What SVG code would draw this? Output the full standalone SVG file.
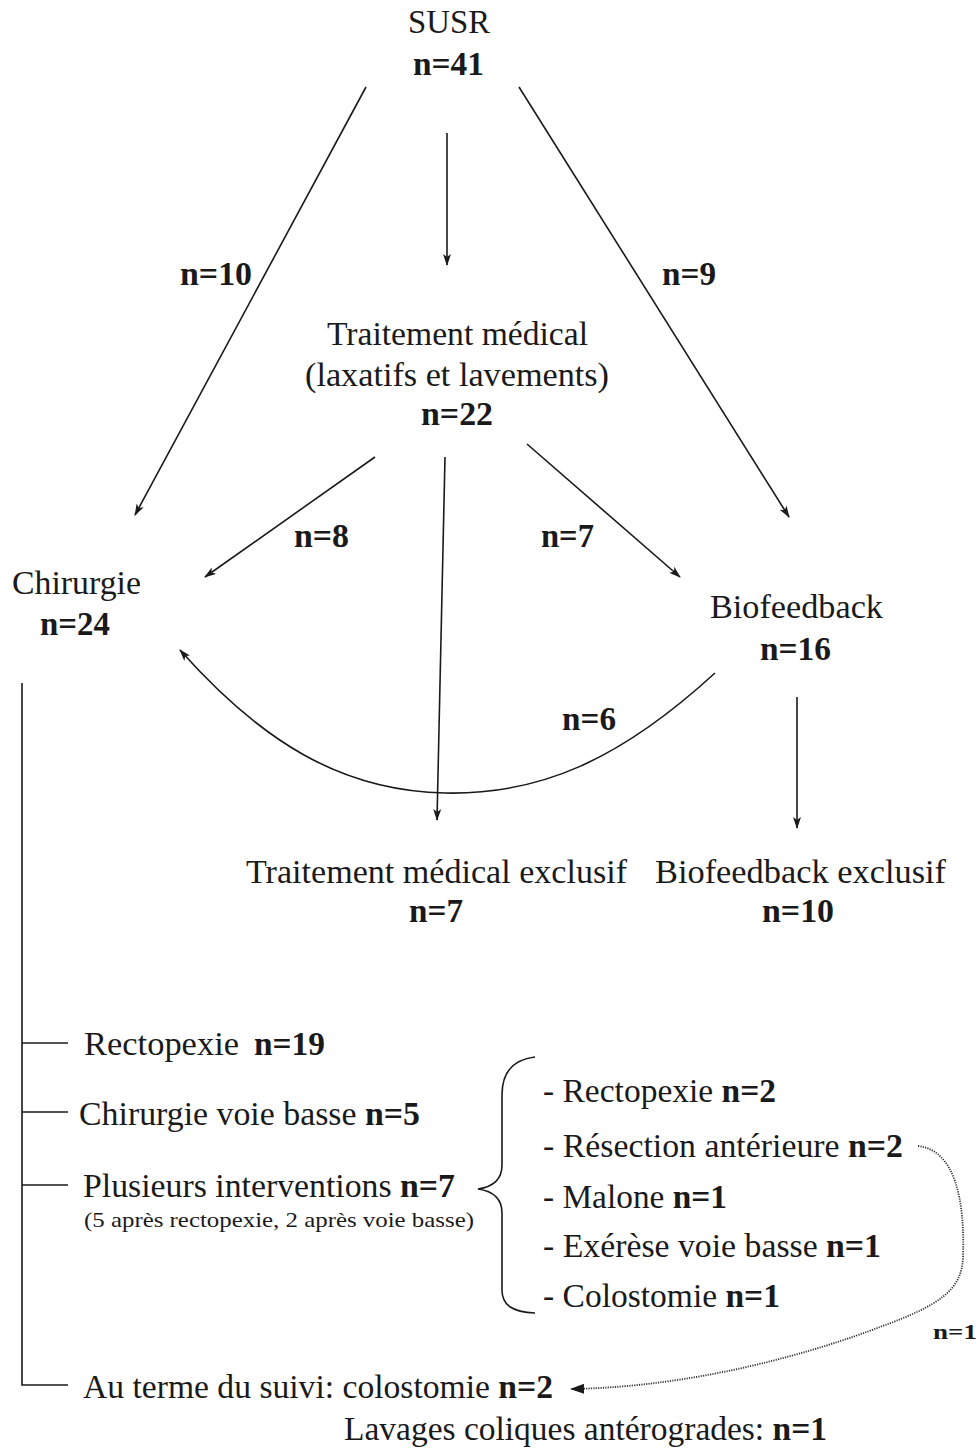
<svg xmlns="http://www.w3.org/2000/svg" width="979" height="1452" viewBox="0 0 979 1452" font-family="Liberation Serif">
<style>
text{font-family:"Liberation Serif","Times New Roman",serif;fill:#1a1a1a;font-size:33px}
.b{font-weight:bold}
.s{font-size:22px}
.ln{stroke:#1a1a1a;stroke-width:1.6;fill:none}
.dot{stroke:#333;stroke-width:1.8;fill:none;stroke-dasharray:1.2 1.2}
</style>
<defs>
<marker id="ah" viewBox="0 0 12 8" refX="11" refY="4" markerWidth="12" markerHeight="8" markerUnits="userSpaceOnUse" orient="auto">
<path d="M0,0 L12,4 L0,8 L3,4 z" fill="#1a1a1a"/>
</marker>
<marker id="ahs" viewBox="0 0 14 10" refX="13" refY="5" markerWidth="14" markerHeight="10" markerUnits="userSpaceOnUse" orient="auto">
<path d="M0,0 L14,5 L0,10 z" fill="#1a1a1a"/>
</marker>
</defs>
<rect width="979" height="1452" fill="#fff"/>
<g id="connectors">
<line class="ln" x1="366" y1="87" x2="135" y2="515" marker-end="url(#ah)"/>
<line class="ln" x1="447" y1="133" x2="447" y2="265" marker-end="url(#ah)"/>
<line class="ln" x1="519" y1="87" x2="789" y2="517" marker-end="url(#ah)"/>
<line class="ln" x1="375" y1="457" x2="205" y2="577" marker-end="url(#ah)"/>
<line class="ln" x1="445" y1="457" x2="437" y2="820" marker-end="url(#ah)"/>
<line class="ln" x1="527" y1="444" x2="680" y2="577" marker-end="url(#ah)"/>
<path class="ln" d="M715,673 C620,760 540,795 445,793 C340,791 260,740 180,650" marker-end="url(#ah)"/>
<line class="ln" x1="797" y1="697" x2="797" y2="828" marker-end="url(#ah)"/>
<path class="ln" d="M22,683 L22,1385 L68,1385 M22,1043 L68,1043 M22,1112 L68,1112 M22,1185 L68,1185"/>
<path class="ln" d="M535,1057 C510,1060 502,1075 502,1095 L502,1165 C502,1180 492,1187 478,1189 C492,1191 502,1198 502,1213 L502,1290 C502,1305 512,1312 535,1313"/>
<path class="dot" d="M918,1146 C955,1150 965,1200 963,1257 C962,1290 940,1305 880,1327 C820,1350 700,1387 571,1389" marker-end="url(#ahs)"/>
</g>
<g id="labels">
<text x="180" y="285" class="b" textLength="72" lengthAdjust="spacingAndGlyphs">n=10</text>
<text x="662" y="285" class="b" textLength="54" lengthAdjust="spacingAndGlyphs">n=9</text>
<text x="294" y="547" class="b" textLength="55" lengthAdjust="spacingAndGlyphs">n=8</text>
<text x="541" y="547" class="b" textLength="53" lengthAdjust="spacingAndGlyphs">n=7</text>
<text x="562" y="730" class="b" textLength="54" lengthAdjust="spacingAndGlyphs">n=6</text>
<text x="933" y="1339" class="b" font-size="22" style="font-size:22px" textLength="44" lengthAdjust="spacingAndGlyphs">n=1</text>
</g>
<g id="susr">
<text x="408" y="33" textLength="82" lengthAdjust="spacingAndGlyphs">SUSR</text>
<text x="413" y="75" class="b" textLength="71" lengthAdjust="spacingAndGlyphs">n=41</text>
</g>
<g id="traitement">
<text x="327" y="345" textLength="261" lengthAdjust="spacingAndGlyphs">Traitement médical</text>
<text x="305" y="386" textLength="304" lengthAdjust="spacingAndGlyphs">(laxatifs et lavements)</text>
<text x="421" y="425" class="b" textLength="72" lengthAdjust="spacingAndGlyphs">n=22</text>
</g>
<g id="chirurgie">
<text x="12" y="594" textLength="129" lengthAdjust="spacingAndGlyphs">Chirurgie</text>
<text x="40" y="635" class="b" textLength="70" lengthAdjust="spacingAndGlyphs">n=24</text>
</g>
<g id="biofeedback">
<text x="710" y="618" textLength="173" lengthAdjust="spacingAndGlyphs">Biofeedback</text>
<text x="760" y="660" class="b" textLength="71" lengthAdjust="spacingAndGlyphs">n=16</text>
</g>
<g id="tme">
<text x="246" y="883" textLength="381" lengthAdjust="spacingAndGlyphs">Traitement médical exclusif</text>
<text x="409" y="922" class="b" textLength="54" lengthAdjust="spacingAndGlyphs">n=7</text>
</g>
<g id="bfe">
<text x="655" y="883" textLength="291" lengthAdjust="spacingAndGlyphs">Biofeedback exclusif</text>
<text x="762" y="922" class="b" textLength="72" lengthAdjust="spacingAndGlyphs">n=10</text>
</g>
<g id="surgery-list">
<text x="84" y="1055" textLength="155" lengthAdjust="spacingAndGlyphs">Rectopexie</text>
<text x="254" y="1055" class="b" textLength="71" lengthAdjust="spacingAndGlyphs">n=19</text>
<text x="79" y="1125" textLength="341" lengthAdjust="spacingAndGlyphs">Chirurgie voie basse <tspan class="b">n=5</tspan></text>
<text x="83" y="1197" textLength="372" lengthAdjust="spacingAndGlyphs">Plusieurs interventions <tspan class="b">n=7</tspan></text>
<text x="84" y="1227" class="s" textLength="390" lengthAdjust="spacingAndGlyphs">(5 après rectopexie, 2 après voie basse)</text>
<text x="83" y="1398" textLength="470" lengthAdjust="spacingAndGlyphs">Au terme du suivi: colostomie <tspan class="b">n=2</tspan></text>
<text x="344" y="1440" textLength="483" lengthAdjust="spacingAndGlyphs">Lavages coliques antérogrades: <tspan class="b">n=1</tspan></text>
</g>
<g id="multi-list">
<text x="543" y="1102" textLength="233" lengthAdjust="spacingAndGlyphs">- Rectopexie <tspan class="b">n=2</tspan></text>
<text x="543" y="1157" textLength="360" lengthAdjust="spacingAndGlyphs">- Résection antérieure <tspan class="b">n=2</tspan></text>
<text x="543" y="1208" textLength="184" lengthAdjust="spacingAndGlyphs">- Malone <tspan class="b">n=1</tspan></text>
<text x="543" y="1257" textLength="338" lengthAdjust="spacingAndGlyphs">- Exérèse voie basse <tspan class="b">n=1</tspan></text>
<text x="543" y="1307" textLength="237" lengthAdjust="spacingAndGlyphs">- Colostomie <tspan class="b">n=1</tspan></text>
</g>
</svg>
